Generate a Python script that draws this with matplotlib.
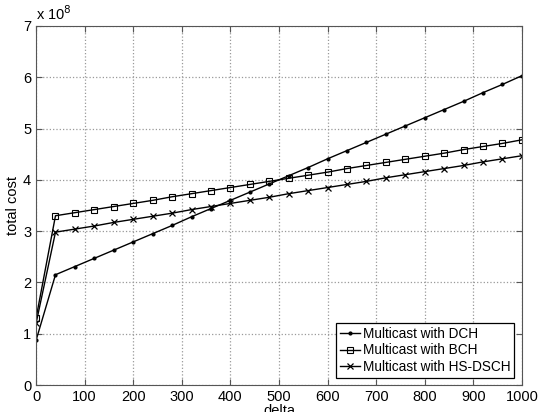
import numpy as np
import matplotlib
matplotlib.use("Agg")
import matplotlib.pyplot as plt

plt.rcParams["font.family"] = ["Liberation Sans", "DejaVu Sans"]

# total cost in units of 1e8
delta = [0, 40, 80, 120, 160, 200, 240, 280, 320, 360, 400, 440, 480,
         520, 560, 600, 640, 680, 720, 760, 800, 840, 880, 920, 960, 1000]
cost_dch = [0.87, 2.15, 2.31, 2.47, 2.63, 2.79, 2.95, 3.11, 3.28, 3.44, 3.60,
            3.76, 3.92, 4.08, 4.24, 4.41, 4.57, 4.73, 4.89, 5.05, 5.21,
            5.37, 5.53, 5.70, 5.86, 6.03]
cost_bch = [1.30, 3.30, 3.36, 3.42, 3.48, 3.54, 3.60, 3.67, 3.73, 3.79, 3.85,
            3.91, 3.97, 4.03, 4.09, 4.15, 4.22, 4.28, 4.34, 4.40, 4.46,
            4.52, 4.59, 4.65, 4.71, 4.78]
cost_hs = [1.20, 2.98, 3.04, 3.10, 3.17, 3.23, 3.29, 3.35, 3.42, 3.48, 3.54,
           3.60, 3.66, 3.73, 3.79, 3.85, 3.91, 3.97, 4.04, 4.10, 4.16,
           4.22, 4.28, 4.35, 4.41, 4.47]

fig = plt.figure(figsize=(5.38, 4.12), dpi=100)
ax = fig.add_axes([0.067, 0.0655, 0.903, 0.8715])

ax.plot(delta, cost_dch, '-', color='k', lw=1.0, marker='.', ms=4,
        label='Multicast with DCH')
ax.plot(delta, cost_bch, '-', color='k', lw=1.0, marker='s', ms=4,
        mfc='none', mew=0.8, label='Multicast with BCH')
ax.plot(delta, cost_hs, '-', color='k', lw=1.0, marker='x', ms=4.5,
        mew=0.9, label='Multicast with HS-DSCH')

ax.set_xlim(0, 1000)
ax.set_ylim(0, 7)
ax.set_xticks(np.arange(0, 1001, 100))
ax.set_yticks(np.arange(0, 8, 1))
ax.tick_params(direction='in', length=4, labelsize=10.5, top=True, right=True,
               color='#555555')
ax.grid(True, linestyle=':', color='#999999', lw=0.9)
for s in ax.spines.values():
    s.set_color('#555555')
ax.set_xlabel('delta', fontsize=10.5, labelpad=0)
ax.set_ylabel('total cost', fontsize=10.5, labelpad=2)
ax.text(0.0, 1.008, r'x 10$^8$', transform=ax.transAxes, fontsize=10.5,
        ha='left', va='bottom')

leg = ax.legend(loc='lower right', fontsize=9.8, fancybox=False,
                edgecolor='k', framealpha=1, handlelength=1.5,
                borderaxespad=0.55, borderpad=0.25, labelspacing=0.2,
                handletextpad=0.25)
leg.get_frame().set_linewidth(0.9)

fig.savefig('out.png', dpi=100)
